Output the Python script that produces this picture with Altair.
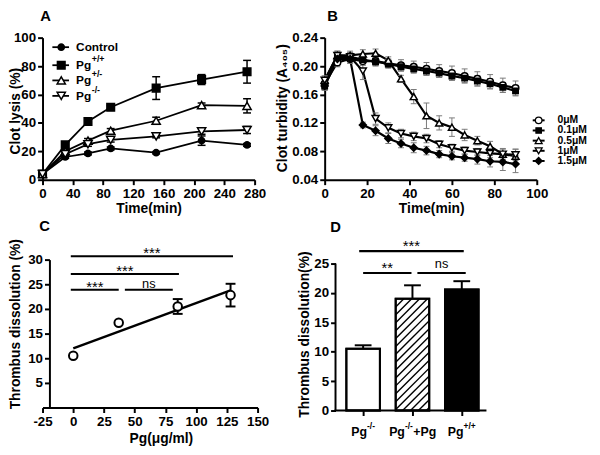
import altair as alt
import pandas as pd
import numpy as np

FONT = "Liberation Sans"

# ---------------- Panel A : clot lysis ----------------
a_time = [0, 30, 60, 90, 150, 210, 270]
a_names = ["Control", "Pg+/+", "Pg+/-", "Pg-/-"]
a_main = ["Control", "Pg", "Pg", "Pg"]
a_sup = ["", "+/+", "+/-", "-/-"]
a_control = [4, 16, 18.5, 22, 19, 27.5, 24.5]
a_control_err = [1.5, 1, 1, 1, 0.8, 3.3, 1]
a_wt = [4, 24.5, 41, 51, 64.5, 70.5, 76]
a_wt_err = [1.5, 2, 2.5, 1.2, 8, 3.5, 8]
a_het = [4, 20, 27.5, 34.5, 41.5, 52.5, 52]
a_het_err = [1.5, 1.5, 1.5, 1.5, 2.5, 1.5, 5]
a_ko = [4, 18, 25, 28, 30.5, 34, 35]
a_ko_err = [1.5, 1.5, 1.5, 1.5, 1, 2, 2.5]
a_values = [a_control, a_wt, a_het, a_ko]
a_errors = [a_control_err, a_wt_err, a_het_err, a_ko_err]
a_shapes = ["circle", "square", "triangle-up", "triangle-down"]
a_fills = ["black", "black", "white", "white"]
a_sizes = [40, 60, 70, 70]
a_xticks = [0, 40, 80, 120, 160, 200, 240, 280]
a_yticks = [0, 20, 40, 60, 80, 100]

# ---------------- Panel B : clot turbidity ----------------
b_time = [0, 6, 12, 18, 24, 30, 36, 42, 48, 54, 60, 66, 72, 78, 84, 90]
b_names = ["0μM", "0.1μM", "0.5μM", "1μM", "1.5μM"]
b_0 = [0.175, 0.205, 0.210, 0.207, 0.207, 0.204, 0.201, 0.199, 0.196, 0.193, 0.190, 0.186, 0.182, 0.178, 0.173, 0.169]
b_01 = [0.172, 0.212, 0.213, 0.209, 0.206, 0.203, 0.199, 0.196, 0.193, 0.190, 0.186, 0.183, 0.179, 0.175, 0.170, 0.165]
b_05 = [0.180, 0.215, 0.215, 0.217, 0.218, 0.208, 0.182, 0.157, 0.130, 0.120, 0.114, 0.103, 0.095, 0.087, 0.076, 0.073]
b_1 = [0.180, 0.215, 0.213, 0.193, 0.126, 0.113, 0.105, 0.101, 0.098, 0.090, 0.085, 0.081, 0.079, 0.077, 0.076, 0.075]
b_15 = [0.172, 0.210, 0.210, 0.117, 0.109, 0.098, 0.091, 0.085, 0.081, 0.076, 0.073, 0.071, 0.069, 0.066, 0.065, 0.062]
b_0_err = [0.008, 0.006, 0.006, 0.006, 0.006, 0.006, 0.008, 0.008, 0.009, 0.009, 0.010, 0.010, 0.010, 0.010, 0.010, 0.010]
b_01_err = [0.006, 0.006, 0.006, 0.006, 0.006, 0.006, 0.006, 0.006, 0.006, 0.006, 0.006, 0.006, 0.007, 0.007, 0.007, 0.007]
b_05_err = [0.006, 0.006, 0.006, 0.006, 0.006, 0.005, 0.005, 0.010, 0.018, 0.010, 0.013, 0.008, 0.006, 0.007, 0.008, 0.010]
b_1_err = [0.006, 0.006, 0.006, 0.012, 0.008, 0.007, 0.006, 0.006, 0.006, 0.005, 0.005, 0.005, 0.005, 0.006, 0.007, 0.008]
b_15_err = [0.006, 0.006, 0.006, 0.004, 0.007, 0.007, 0.006, 0.007, 0.006, 0.005, 0.005, 0.005, 0.007, 0.008, 0.012, 0.012]
b_values = [b_0, b_01, b_05, b_1, b_15]
b_errors = [b_0_err, b_01_err, b_05_err, b_1_err, b_15_err]
b_shapes = ["circle", "square", "triangle-up", "triangle-down", "diamond"]
b_fills = ["white", "black", "white", "white", "black"]
b_sizes = [45, 30, 50, 50, 50]
b_xticks = [0, 20, 40, 60, 80, 100]
b_yticks = [0.04, 0.08, 0.12, 0.16, 0.20, 0.24]

# ---------------- Panel C : thrombus dissolution vs Pg ----------------
c_conc = [0, 37, 85, 128]
c_val = [10.5, 17.2, 20.5, 22.8]
c_err = [0, 0, 1.5, 2.3]
c_sig_x1 = [-2, -2, -2, 42]
c_sig_x2 = [130, 86, 37, 81]
c_sig_y = [30.7, 27.1, 23.9, 23.9]
c_sig_txt = ["***", "***", "***", "ns"]
c_xticks = [-25, 0, 25, 50, 75, 100, 125, 150]
c_yticks = [5, 10, 15, 20, 25, 30]

# ---------------- Panel D : thrombus dissolution bars ----------------
d_groups = ["Pg-/-", "Pg-/-+Pg", "Pg+/+"]
d_val = [10.5, 19.0, 20.6]
d_err = [0.6, 2.3, 1.4]
d_fill = ["white", "white", "black"]
d_sig_x1 = [-0.08, 0.0, 1.1]
d_sig_x2 = [2.04, 0.98, 2.08]
d_sig_y = [27.1, 23.4, 23.4]
d_sig_txt = ["***", "**", "ns"]
d_label_parts = [[("Pg", 0), ("-/-", 1)], [("Pg", 0), ("-/-", 1), ("+Pg", 0)], [("Pg", 0), ("+/+", 1)]]
d_yticks = [0, 5, 10, 15, 20, 25]

# ---------------- helpers ----------------
CW = {"P": .667, "g": .611, "+": .584, "-": .333, "/": .278}


def tw(s, size):
    return sum(CW.get(c, .556) for c in s) * size


def AX(values, **kw):
    return alt.Axis(values=values, tickCount=len(values), labelOverlap=False, labelFlush=False,
                    labelBound=False, **kw)


def letter(ch, x, y):
    return alt.Chart(pd.DataFrame({"k": [0]})).mark_text(
        text=ch, font=FONT, fontWeight="bold", fontSize=15, align="center", baseline="middle"
    ).encode(x=alt.value(x), y=alt.value(y))


# ================= Panel A =================
rows = []
for i, name in enumerate(a_names):
    for t, v, e in zip(a_time, a_values[i], a_errors[i]):
        rows.append(dict(series=name, time=t, value=v, lo=v - e, hi=v + e,
                         shape=a_shapes[i], fill=a_fills[i], size=a_sizes[i]))
dfA = pd.DataFrame(rows)
sxA = alt.Scale(domain=[0, 280], nice=False, zero=False)
syA = alt.Scale(domain=[0, 100], nice=False, zero=False)
xA = alt.X("time:Q", scale=sxA)
baseA = alt.Chart(dfA)
lineA = baseA.mark_line(color="black", strokeWidth=1.8).encode(
    x=alt.X("time:Q", scale=sxA, axis=AX(a_xticks, title="Time(min)",
                                          titleX=107.5, titleY=29.5, titleBaseline="middle")),
    y=alt.Y("value:Q", scale=syA, axis=AX(a_yticks, title="Clot lysis (%)",
                                           titleX=-27, titleY=74, titleBaseline="middle")),
    detail="series:N")
errA = baseA.mark_rule(color="black", strokeWidth=1.5).encode(
    x=xA, y=alt.Y("lo:Q", scale=syA), y2="hi:Q")
capA = [baseA.mark_tick(orient="horizontal", size=8, thickness=1.5, color="black", opacity=1).encode(
    x=xA, y=alt.Y(f"{c}:Q", scale=syA)) for c in ["lo", "hi"]]
ptsA = baseA.mark_point(filled=True, stroke="black", strokeWidth=1.5, opacity=1).encode(
    x=xA, y=alt.Y("value:Q", scale=syA),
    shape=alt.Shape("shape:N", scale=None), fill=alt.Fill("fill:N", scale=None),
    size=alt.Size("size:Q", scale=None))

legA_y = [93.3, 80.6, 69.9, 59.0]
dfLA = pd.DataFrame(dict(ly=legA_y, main=a_main, sup=a_sup, shape=a_shapes, fill=a_fills, size=a_sizes))
yLA = alt.Y("ly:Q", scale=syA)
legA = [
    alt.Chart(dfLA).mark_rule(color="black", strokeWidth=1.8).encode(
        x=alt.datum(13), x2=alt.datum(35), y=yLA),
    alt.Chart(dfLA).mark_point(filled=True, stroke="black", strokeWidth=1.5, opacity=1).encode(
        x=alt.datum(24.7), y=yLA, shape=alt.Shape("shape:N", scale=None),
        fill=alt.Fill("fill:N", scale=None), size=alt.Size("size:Q", scale=None)),
    alt.Chart(dfLA).mark_text(align="left", baseline="middle", font=FONT, fontWeight="bold",
                              fontSize=12).encode(x=alt.datum(44.3), y=yLA, text="main:N"),
    alt.Chart(dfLA).mark_text(align="left", baseline="middle", font=FONT, fontWeight="bold",
                              fontSize=9, dx=tw("Pg", 12) + 0.5, dy=-6).encode(
        x=alt.datum(44.3), y=yLA, text="sup:N"),
]
chartA = alt.layer(lineA, errA, *capA, ptsA, *legA, letter("A", 3, -21.5)).properties(width=215, height=144)

# ================= Panel B =================
rows = []
for i, name in enumerate(b_names):
    for t, v, e in zip(b_time, b_values[i], b_errors[i]):
        rows.append(dict(series=name, time=t, value=v, lo=v - e, hi=v + e,
                         shape=b_shapes[i], fill=b_fills[i], size=b_sizes[i]))
dfB = pd.DataFrame(rows)
sxB = alt.Scale(domain=[0, 100], nice=False, zero=False)
syB = alt.Scale(domain=[0.04, 0.24], nice=False, zero=False)
xB = alt.X("time:Q", scale=sxB)
baseB = alt.Chart(dfB)
lineB = baseB.mark_line(color="black", strokeWidth=2.2).encode(
    x=alt.X("time:Q", scale=sxB, axis=AX(b_xticks, title="Time(min)",
                                          titleX=108, titleY=29.5, titleBaseline="middle")),
    y=alt.Y("value:Q", scale=syB, axis=AX(b_yticks, format=".2f",
                                           title="Clot turbidity (A₄₀₅)", titleX=-43, titleY=71,
                                           titleBaseline="middle")),
    detail="series:N")
errB = baseB.mark_rule(color="#7a7a7a", strokeWidth=1).encode(
    x=xB, y=alt.Y("lo:Q", scale=syB), y2="hi:Q")
capB = [baseB.mark_tick(orient="horizontal", size=6, thickness=1, color="#7a7a7a", opacity=1).encode(
    x=xB, y=alt.Y(f"{c}:Q", scale=syB)) for c in ["lo", "hi"]]
ptsB = baseB.mark_point(filled=True, stroke="black", strokeWidth=1.5, opacity=1).encode(
    x=xB, y=alt.Y("value:Q", scale=syB),
    shape=alt.Shape("shape:N", scale=None), fill=alt.Fill("fill:N", scale=None),
    size=alt.Size("size:Q", scale=None))
legB_y = [0.1236 - 0.0143 * i for i in range(5)]
dfLB = pd.DataFrame(dict(ly=legB_y, name=b_names, shape=b_shapes, fill=b_fills, size=b_sizes))
yLB = alt.Y("ly:Q", scale=syB)
legB = [
    alt.Chart(dfLB).mark_rule(color="black", strokeWidth=2).encode(x=alt.datum(98.1), x2=alt.datum(103.7), y=yLB),
    alt.Chart(dfLB).mark_point(filled=True, stroke="black", strokeWidth=1.3, opacity=1).encode(
        x=alt.datum(100.9), y=yLB, shape=alt.Shape("shape:N", scale=None),
        fill=alt.Fill("fill:N", scale=None), size=alt.Size("size:Q", scale=None)),
    alt.Chart(dfLB).mark_text(align="left", baseline="middle", font=FONT, fontWeight="bold",
                              fontSize=10.5).encode(x=alt.datum(109.8), y=yLB, text="name:N"),
]
chartB = alt.layer(lineB, errB, *capB, ptsB, *legB, letter("B", 8, -21.5)).properties(width=215, height=144)

# ================= Panel C =================
dfC = pd.DataFrame(dict(conc=c_conc, val=c_val, lo=np.array(c_val) - np.array(c_err),
                        hi=np.array(c_val) + np.array(c_err), err=c_err))
sxC = alt.Scale(domain=[-25, 150], nice=False, zero=False)
syC = alt.Scale(domain=[0, 30], nice=False, zero=False)
xC = alt.X("conc:Q", scale=sxC)
regC = alt.Chart(dfC).transform_regression("conc", "val").mark_line(color="black", strokeWidth=2.5).encode(
    x=alt.X("conc:Q", scale=sxC, axis=AX(c_xticks, labelExpr="'' + datum.value",
                                          title="Pg(μg/ml)", titleX=120, titleY=31.5,
                                          titleBaseline="middle")),
    y=alt.Y("val:Q", scale=syC, axis=AX(c_yticks, offset=-7,
                                         title="Thrombus dissolution (%)", titleX=-34, titleY=65,
                                         titleBaseline="middle")))
errCdf = alt.Chart(dfC).transform_filter("datum.err > 0")
errC = errCdf.mark_rule(color="black", strokeWidth=2).encode(
    x=xC, y=alt.Y("lo:Q", scale=syC), y2="hi:Q")
capC = [errCdf.mark_tick(orient="horizontal", size=10, thickness=2, color="black", opacity=1).encode(
    x=xC, y=alt.Y(f"{c}:Q", scale=syC)) for c in ["lo", "hi"]]
ptsC = alt.Chart(dfC).mark_point(shape="circle", filled=True, fill="white", stroke="black",
                                 strokeWidth=2, size=75, opacity=1).encode(
    x=xC, y=alt.Y("val:Q", scale=syC))
dfSC = pd.DataFrame(dict(x1=c_sig_x1, x2=c_sig_x2, y=c_sig_y, txt=c_sig_txt))
dfSC["xm"] = (dfSC.x1 + dfSC.x2) / 2
sigC = alt.Chart(dfSC).mark_rule(color="black", strokeWidth=2).encode(
    x=alt.X("x1:Q", scale=sxC), x2="x2:Q", y=alt.Y("y:Q", scale=syC))
starC = alt.Chart(dfSC).transform_filter("datum.txt != 'ns'").mark_text(
    font=FONT, fontSize=15, baseline="alphabetic", dy=2).encode(
    x=alt.X("xm:Q", scale=sxC), y=alt.Y("y:Q", scale=syC), text="txt:N")
nsC = alt.Chart(dfSC).transform_filter("datum.txt == 'ns'").mark_text(
    font=FONT, fontSize=13, baseline="alphabetic", dy=-2).encode(
    x=alt.X("xm:Q", scale=sxC), y=alt.Y("y:Q", scale=syC), text="txt:N")
chartC = alt.layer(regC, errC, *capC, ptsC, sigC, starC, nsC, letter("C", 2, -34)).properties(
    width=218, height=150)

# ================= Panel D =================
idx = list(range(len(d_groups)))
HALF = 0.34
D_LEFT, D_RIGHT, D_PAD = -0.56, 2.5, 0.22
dfD = pd.DataFrame(dict(i=idx, xl=[k - HALF for k in idx], xr=[k + HALF for k in idx], val=d_val,
                        hi=np.array(d_val) + np.array(d_err), fill=d_fill, base=0))
sxD = alt.Scale(domain=[D_LEFT - D_PAD, D_RIGHT], nice=False, zero=False)
syD = alt.Scale(domain=[0, 25.67], nice=False, zero=False)
PXX = 164 / (D_RIGHT - D_LEFT + D_PAD)
PXY = 153 / 25.67
barsD = alt.Chart(dfD).mark_rect(stroke="black", strokeWidth=2).encode(
    x=alt.X("xl:Q", scale=sxD, axis=AX(idx, labels=False, title=None, domain=False)),
    x2="xr:Q",
    y=alt.Y("val:Q", scale=syD, axis=AX(d_yticks, domain=False, offset=-11,
                                         title="Thrombus dissolution(%)", titleX=-31, titleY=75.5,
                                         titleBaseline="middle")),
    y2="base:Q", fill=alt.Fill("fill:N", scale=None))
# hatch pattern of the second bar
bw = 2 * HALF * PXX
bh = d_val[1] * PXY
segs = []
for c in np.arange(-bw + 3, bh, 8.0):
    xs, xe = max(0.0, -c), min(bw, bh - c)
    if xe > xs:
        segs.append(dict(hx1=1 - HALF + xs / PXX, hx2=1 - HALF + xe / PXX,
                         hy1=(xs + c) / PXY, hy2=(xe + c) / PXY))
dfH = pd.DataFrame(segs)
hatchD = alt.Chart(dfH).mark_rule(color="black", strokeWidth=1.4).encode(
    x=alt.X("hx1:Q", scale=sxD), x2="hx2:Q",
    y=alt.Y("hy1:Q", scale=syD), y2="hy2:Q")
outlineD = alt.Chart(dfD).mark_rect(stroke="black", strokeWidth=2, fillOpacity=0).encode(
    x=alt.X("xl:Q", scale=sxD), x2="xr:Q",
    y=alt.Y("val:Q", scale=syD), y2="base:Q")
one = pd.DataFrame({"k": [0]})
yaxD = alt.Chart(one).mark_rule(color="black", strokeWidth=2).encode(
    x=alt.datum(D_LEFT), y=alt.datum(0), y2=alt.datum(25))
xaxD = alt.Chart(one).mark_rule(color="black", strokeWidth=2).encode(
    x=alt.datum(D_LEFT - 0.02), x2=alt.datum(D_RIGHT), y=alt.datum(0))
errD = alt.Chart(dfD).mark_rule(color="black", strokeWidth=2).encode(
    x=alt.X("i:Q", scale=sxD), y=alt.Y("val:Q", scale=syD), y2="hi:Q")
capD = alt.Chart(dfD).mark_tick(orient="horizontal", size=17, thickness=2, color="black", opacity=1).encode(
    x=alt.X("i:Q", scale=sxD), y=alt.Y("hi:Q", scale=syD))
dfSD = pd.DataFrame(dict(x1=d_sig_x1, x2=d_sig_x2, y=d_sig_y, txt=d_sig_txt))
dfSD["xm"] = (dfSD.x1 + dfSD.x2) / 2
sigD = alt.Chart(dfSD).mark_rule(color="black", strokeWidth=2.2).encode(
    x=alt.X("x1:Q", scale=sxD), x2="x2:Q", y=alt.Y("y:Q", scale=syD))
starD = alt.Chart(dfSD).transform_filter("datum.txt != 'ns'").mark_text(
    font=FONT, fontSize=15, baseline="alphabetic", dy=0).encode(
    x=alt.X("xm:Q", scale=sxD), y=alt.Y("y:Q", scale=syD), text="txt:N")
nsD = alt.Chart(dfSD).transform_filter("datum.txt == 'ns'").mark_text(
    font=FONT, fontSize=13, baseline="alphabetic", dy=-5).encode(
    x=alt.X("xm:Q", scale=sxD), y=alt.Y("y:Q", scale=syD), text="txt:N")
labD = []
for k, parts in enumerate(d_label_parts):
    sizes = [12.5 if s == 0 else 8.5 for _, s in parts]
    total = sum(tw(p, sz) for (p, _), sz in zip(parts, sizes))
    off = -total / 2
    for (p, s), sz in zip(parts, sizes):
        labD.append(alt.Chart(pd.DataFrame({"i": [k], "t": [p]})).mark_text(
            align="left", baseline="middle", font=FONT, fontWeight="bold", fontSize=sz,
            dx=off, dy=-6 if s else 0).encode(
            x=alt.X("i:Q", scale=sxD), y=alt.value(175), text="t:N"))
        off += tw(p, sz) + (0.5 if s else 0)
chartD = alt.layer(barsD, hatchD, outlineD, yaxD, xaxD, errD, capD, sigD, starD, nsD, *labD,
                   letter("D", 11, -33)).properties(width=164, height=153)

chart = alt.concat(chartA, chartB, chartC, chartD, columns=2,
                   spacing={"row": 81, "column": 68}, bounds="flush", align="none").properties(
    autosize=alt.AutoSizeParams(type="none"),
    padding={"left": 35, "top": 27, "right": 557, "bottom": 420},
).configure_axis(
    domainColor="black", domainWidth=2, tickColor="black", tickWidth=2, tickSize=5,
    labelFont=FONT, labelFontWeight="bold", labelFontSize=13.5, labelColor="black", labelPadding=2,
    titleFont=FONT, titleFontWeight="bold", titleFontSize=14, titleColor="black", grid=False,
).configure_view(stroke=None)

chart.save("out.html", embed_options={"renderer": "svg", "actions": False})
